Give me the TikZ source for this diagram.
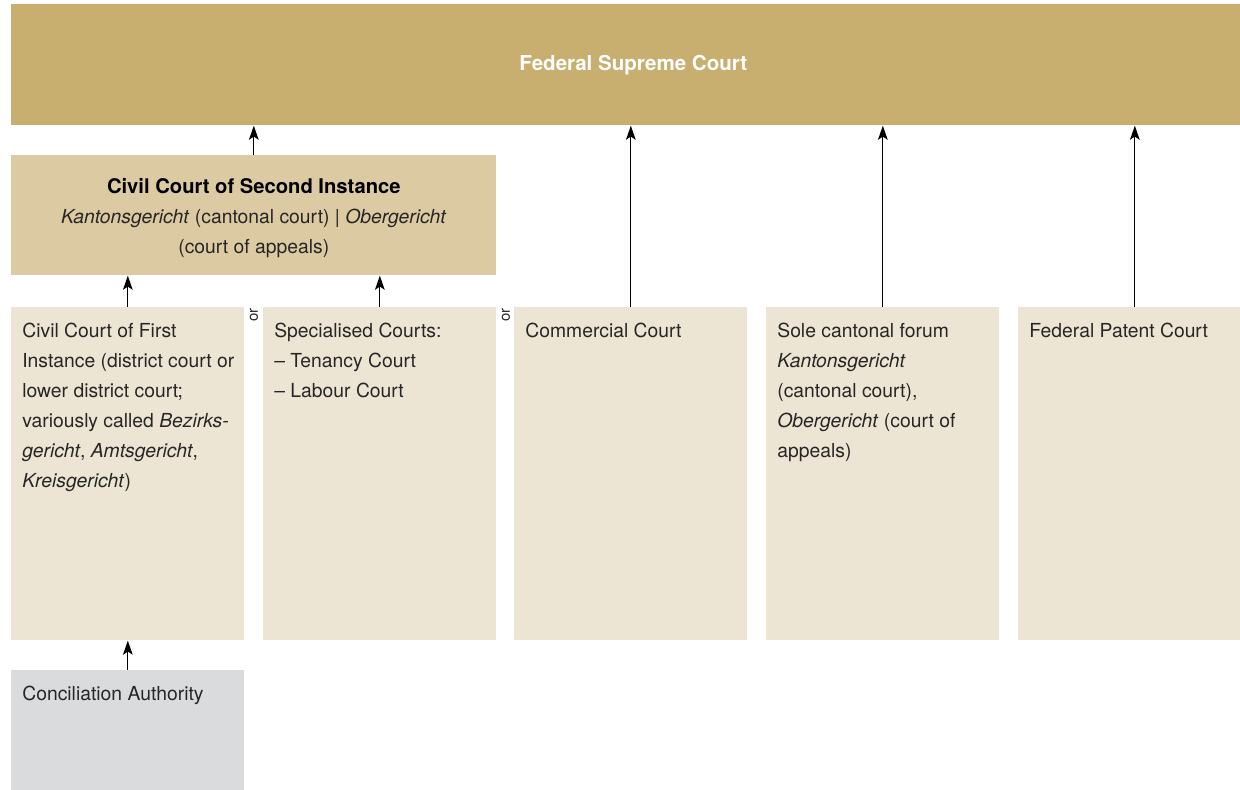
\documentclass[tikz,border=0pt]{standalone}
\usepackage{fontspec}
\setmainfont{TeX Gyre Heros}
\usetikzlibrary{arrows.meta,calc}
\definecolor{supremegold}{HTML}{C8AE6F}
\definecolor{secondtan}{HTML}{DCCBA2}
\definecolor{firstcream}{HTML}{EDE5D4}
\definecolor{concilgray}{HTML}{DADBDD}
\definecolor{textgray}{HTML}{262626}
\tikzstyle{court} = [rectangle, anchor=north west, inner sep=0pt, minimum width=4.66cm, minimum height=6.66cm, fill=firstcream]
\tikzstyle{courttext} = [anchor=north west, inner sep=0pt, align=left, text=textgray, font=\fontsize{11}{17}\selectfont]
\tikzstyle{appeal} = [-{Stealth[length=8pt,width=5.5pt,inset=1.8pt]}, line width=0.7pt]

\begin{document}
\begin{tikzpicture}[x=0.02cm, y=-0.02cm]
        \useasboundingbox (0,0) rectangle (1240,790);
        \node[court, minimum width=24.8cm, minimum height=2.42cm, fill=supremegold] at (11, 4) (Supreme) {};
        \node[text=white, font=\bfseries\fontsize{11.7}{14}\selectfont] at ($(Supreme.center)+(2,0)$) (SupremeText) {Federal Supreme Court};

        \node[court, minimum width=9.7cm, minimum height=2.4cm, fill=secondtan] at (11, 155) (SecondInstance) {};
        \node[align=center, text=textgray, font=\fontsize{11}{17}\selectfont] at ($(SecondInstance.center)+(0,3)$) (SecondText)
            {{\bfseries\color{black}\fontsize{11.5}{17}\selectfont Civil Court of Second Instance}\\
             \textit{Kantonsgericht} (cantonal court) | \textit{Obergericht}\\
             (court of appeals)};

        \node[court] at (11, 307) (FirstInstance) {};
        \node[courttext] at (22, 323) (FirstText) {Civil Court of First\\Instance (district court or\\lower district court;\\variously called \textit{Bezirks-}\\\textit{gericht}, \textit{Amtsgericht},\\\textit{Kreisgericht})};

        \node[court] at (263, 307) (Specialised) {};
        \node[courttext] at (274, 323) (SpecialisedText) {Specialised Courts:\\– Tenancy Court\\– Labour Court};

        \node[court] at (514, 307) (Commercial) {};
        \node[courttext] at (525, 323) (CommercialText) {Commercial Court};

        \node[court] at (766, 307) (SoleForum) {};
        \node[courttext] at (777, 323) (SoleForumText) {Sole cantonal forum\\\textit{Kantonsgericht}\\(cantonal court),\\\textit{Obergericht} (court of\\appeals)};

        \node[court] at (1018, 307) (Patent) {};
        \node[courttext] at (1029, 323) (PatentText) {Federal Patent Court};

        \node[court, minimum height=2.4cm, fill=concilgray] at (11, 670) (Conciliation) {};
        \node[courttext] at (22, 686) (ConciliationText) {Conciliation Authority};

        \node[rotate=90, inner sep=0pt, text=textgray, font=\fontsize{8.5}{10}\selectfont] at (254, 315) (OrA) {or};
        \node[rotate=90, inner sep=0pt, text=textgray, font=\fontsize{8.5}{10}\selectfont] at (506, 315) (OrB) {or};

        \draw[appeal] (SecondInstance.north) -- (SecondInstance.north |- Supreme.south);
        \draw[appeal] (Commercial.north) -- (Commercial.north |- Supreme.south);
        \draw[appeal] (SoleForum.north) -- (SoleForum.north |- Supreme.south);
        \draw[appeal] (Patent.north) -- (Patent.north |- Supreme.south);
        \draw[appeal] (FirstInstance.north) -- (FirstInstance.north |- SecondInstance.south);
        \draw[appeal] (Specialised.north) -- (Specialised.north |- SecondInstance.south);
        \draw[appeal] (Conciliation.north) -- (FirstInstance.south);
    \end{tikzpicture}
\end{document}
